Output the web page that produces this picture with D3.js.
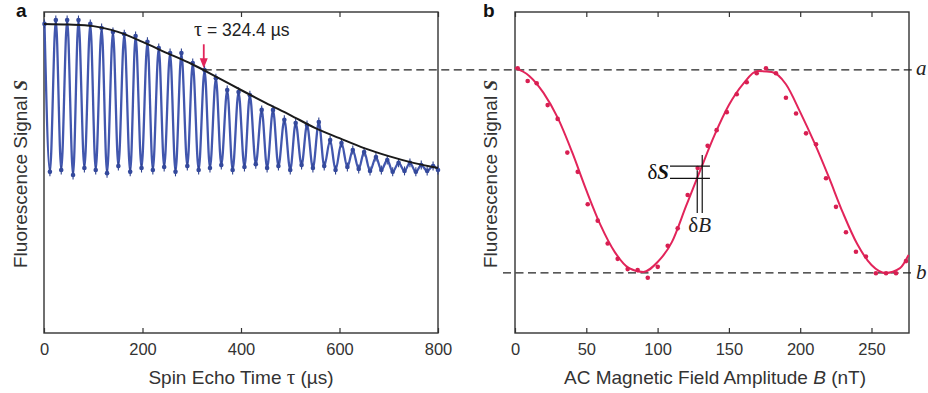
<!DOCTYPE html>
<html><head><meta charset="utf-8">
<script src="https://cdn.jsdelivr.net/npm/d3@7"></script>
<style>
html,body{margin:0;padding:0;background:#fff;}
svg{display:block;}
</style></head>
<body>
<script>
// ---------- DATA (signal in arbitrary units 0..1) ----------
// Panel a: spin-echo oscillation (peak / trough samples)
const peakTau = [1,24,47,70,94,117,140,163,186,210,233,256,279,302,326,349,372,395,418,442,465,488,511,534,558,581,604,627,650,674,697,720,743,766,790];
const peakVal = [0.963,0.975,0.975,0.975,0.963,0.950,0.938,0.931,0.925,0.907,0.888,0.872,0.872,0.841,0.819,0.794,0.757,0.751,0.741,0.695,0.695,0.664,0.654,0.648,0.657,0.601,0.592,0.570,0.564,0.548,0.539,0.530,0.530,0.523,0.520];
const troughTau = [12,35,59,82,105,128,151,175,198,221,244,267,291,314,337,360,383,407,430,453,476,500,523,546,569,592,616,639,662,685,708,732,755,778,800];
const troughVal = [0.502,0.508,0.492,0.514,0.508,0.498,0.520,0.502,0.514,0.508,0.517,0.502,0.520,0.508,0.514,0.523,0.508,0.517,0.526,0.514,0.520,0.508,0.523,0.514,0.520,0.508,0.517,0.511,0.505,0.508,0.502,0.505,0.502,0.505,0.508];
const errBar = 0.014;
// Panel a: Gaussian-like decay envelope
const envTau = [0,50,100,150,200,250,300,350,400,450,500,550,600,650,700,750,800];
const envVal = [0.963,0.961,0.956,0.938,0.907,0.872,0.838,0.798,0.757,0.717,0.679,0.639,0.607,0.576,0.551,0.530,0.514];
const tauMark = 324.4;
const xTicksA = [0,200,400,600,800];

// Panel b: magnetometry fringe
const ptB = [1.9,8.9,15.2,22.9,29.9,36.7,44.0,51.0,58.0,65.0,72.0,79.0,86.0,93.1,100.1,107.1,114.1,121.1,128.1,135.1,141.4,148.5,155.5,162.5,169.5,176.0,183.0,190.0,197.1,204.1,211.1,218.1,225.1,232.1,239.1,246.1,253.1,260.2,267.2,274.2];
const ptS = [0.825,0.785,0.778,0.710,0.667,0.562,0.502,0.401,0.350,0.279,0.231,0.199,0.196,0.172,0.206,0.272,0.326,0.430,0.514,0.583,0.632,0.688,0.744,0.781,0.809,0.825,0.809,0.733,0.684,0.622,0.588,0.482,0.393,0.314,0.253,0.238,0.186,0.186,0.186,0.224];
const fitB = [0,10,20,30,40,50,60,70,80,90,100,110,120,130,140,150,160,170,180,190,200,210,220,230,240,250,260,270,276];
const fitS = [0.826,0.801,0.748,0.670,0.564,0.445,0.336,0.252,0.202,0.190,0.221,0.283,0.396,0.508,0.617,0.710,0.776,0.816,0.813,0.775,0.688,0.592,0.486,0.374,0.277,0.212,0.187,0.202,0.243];
const levelA = 0.820, levelB = 0.187;
const deltaS = [0.520,0.482];   // δS levels
const deltaB = [127.8,131.3];   // δB positions (nT)
const xTicksB = [0,50,100,150,200,250];

// ---------- LAYOUT ----------
const W = 928, H = 393;
const SANS = "Liberation Sans, Arial, sans-serif", SERIF = "Liberation Serif, Times New Roman, serif";
const svg = d3.select("body").append("svg").attr("width", W).attr("height", H)
  .attr("font-family", SANS).attr("fill", "#222");
const y = d3.scaleLinear().domain([0,1]).range([333,12]);
const xA = d3.scaleLinear().domain([0,800]).range([44,438]);
const xB = d3.scaleLinear().domain([0,276.3]).range([515,909]);
const blue = "#4257ae", red = "#e2245a";

function frame(x, ticks) {
  const g = svg.append("g");
  g.append("g").attr("transform", "translate(0,333)")
    .call(d3.axisBottom(x).tickValues(ticks).tickSize(-5).tickPadding(10).tickFormat(d3.format("d")))
    .call(s => { s.select(".domain").remove(); s.selectAll("line").attr("stroke","#333").attr("stroke-width",1.2);
                 s.selectAll("text").attr("font-size",16.5).attr("fill","#333").attr("font-family",SANS); });
  g.append("g").attr("transform", "translate(0,12)")
    .call(d3.axisTop(x).tickValues(ticks).tickSize(-5).tickFormat(""))
    .call(s => { s.select(".domain").remove(); s.selectAll("line").attr("stroke","#333").attr("stroke-width",1.2); });
  const [x0, x1] = x.range();
  g.append("rect").attr("x", x0).attr("y", 12).attr("width", x1 - x0).attr("height", 321)
    .attr("fill", "none").attr("stroke", "#333").attr("stroke-width", 1.4);
}
frame(xA, xTicksA);
frame(xB, xTicksB);

// ---------- PANEL A ----------
const pts = peakTau.map((t,i)=>({t, v:peakVal[i]})).concat(troughTau.map((t,i)=>({t, v:troughVal[i]})))
  .sort((a,b)=>a.t-b.t);
const gA = svg.append("g");
gA.append("path").datum(pts)
  .attr("d", d3.line().x(d=>xA(d.t)).y(d=>y(d.v)).curve(d3.curveMonotoneX))
  .attr("fill","none").attr("stroke",blue).attr("stroke-width",2.3);
gA.selectAll("line.err").data(pts).join("line").attr("class","err")
  .attr("x1",d=>xA(d.t)).attr("x2",d=>xA(d.t))
  .attr("y1",d=>y(d.v+errBar)).attr("y2",d=>y(d.v-errBar))
  .attr("stroke","#2f438f").attr("stroke-width",1.1);
gA.selectAll("circle").data(pts).join("circle")
  .attr("cx",d=>xA(d.t)).attr("cy",d=>y(d.v)).attr("r",2.3).attr("fill","#34499c");
gA.append("path").datum(envTau.map((t,i)=>({t, v:envVal[i]})))
  .attr("d", d3.line().x(d=>xA(d.t)).y(d=>y(d.v)).curve(d3.curveMonotoneX))
  .attr("fill","none").attr("stroke","#1a1a1a").attr("stroke-width",2);

// dashed level lines
svg.append("line").attr("x1", xA(tauMark)).attr("x2", 913).attr("y1", y(levelA)).attr("y2", y(levelA))
  .attr("stroke","#222").attr("stroke-width",1.2).attr("stroke-dasharray","8,4.5");
svg.append("line").attr("x1", 503).attr("x2", 913).attr("y1", y(levelB)).attr("y2", y(levelB))
  .attr("stroke","#222").attr("stroke-width",1.2).attr("stroke-dasharray","8,4.5");

// red arrow + tau label
const ax = xA(tauMark), tip = y(levelA) - 1.5;
svg.append("line").attr("x1",ax).attr("x2",ax).attr("y1",tip-24).attr("y2",tip-8)
  .attr("stroke",red).attr("stroke-width",1.8);
svg.append("path").attr("d",`M${ax-4},${tip-10}L${ax+4},${tip-10}L${ax},${tip}Z`).attr("fill",red);
const tt = svg.append("text").attr("x",194).attr("y",36).attr("font-size",17.5).attr("fill","#222");
tt.append("tspan").attr("font-family",SERIF).attr("font-size",20).text("τ");
tt.append("tspan").text(" = " + tauMark.toFixed(1) + " µs");

// ---------- PANEL B ----------
const gB = svg.append("g");
gB.append("path").datum(fitB.map((b,i)=>({b, s:fitS[i]})))
  .attr("d", d3.line().x(d=>xB(d.b)).y(d=>y(d.s)).curve(d3.curveMonotoneX))
  .attr("fill","none").attr("stroke",red).attr("stroke-width",2);
gB.selectAll("circle").data(ptB.map((b,i)=>({b, s:ptS[i]}))).join("circle")
  .attr("cx",d=>xB(d.b)).attr("cy",d=>y(d.s)).attr("r",2.3).attr("fill","#d81f52");

// δS / δB markers
const hx0 = xB(108.7), hx1 = xB(136.7);
deltaS.forEach(s => gB.append("line").attr("x1",hx0).attr("x2",hx1).attr("y1",y(s)).attr("y2",y(s))
  .attr("stroke","#111").attr("stroke-width",1.2));
gB.append("line").attr("x1",xB(deltaB[0])).attr("x2",xB(deltaB[0])).attr("y1",y(deltaS[1])-8).attr("y2",y(0.374))
  .attr("stroke","#111").attr("stroke-width",1.2);
gB.append("line").attr("x1",xB(deltaB[1])).attr("x2",xB(deltaB[1])).attr("y1",y(deltaS[0])-11).attr("y2",y(0.374))
  .attr("stroke","#111").attr("stroke-width",1.2);
const ds = gB.append("text").attr("x",hx0-1).attr("y",y((deltaS[0]+deltaS[1])/2)+7).attr("text-anchor","end")
  .attr("font-family",SERIF).attr("font-size",21).attr("fill","#111");
ds.append("tspan").text("δ");
ds.append("tspan").attr("font-style","italic").attr("font-weight","bold").text("S");
const db = gB.append("text").attr("x",xB((deltaB[0]+deltaB[1])/2)).attr("y",232).attr("text-anchor","middle")
  .attr("font-family",SERIF).attr("font-size",21).attr("fill","#222");
db.append("tspan").text("δ");
db.append("tspan").attr("font-style","italic").text("B");

// level labels
svg.append("text").attr("x",916).attr("y",y(levelA)+5).attr("font-family",SERIF)
  .attr("font-style","italic").attr("font-size",21).text("a");
svg.append("text").attr("x",916).attr("y",y(levelB)+6).attr("font-family",SERIF)
  .attr("font-style","italic").attr("font-size",21).text("b");

// ---------- LABELS ----------
svg.append("text").attr("x",16).attr("y",17).attr("font-weight","bold").attr("font-size",19).attr("fill","#111").text("a");
svg.append("text").attr("x",483).attr("y",17).attr("font-weight","bold").attr("font-size",19).attr("fill","#111").text("b");

function ylab(x) {
  const t = svg.append("text").attr("transform",`translate(${x},174) rotate(-90)`).attr("text-anchor","middle")
    .attr("font-size",19).attr("fill","#333");
  t.append("tspan").text("Fluorescence Signal ");
  t.append("tspan").attr("font-family",SERIF).attr("font-style","italic").attr("font-weight","bold").text("S");
}
ylab(27); ylab(497);

const xt1 = svg.append("text").attr("x",(44+438)/2).attr("y",384).attr("text-anchor","middle").attr("font-size",19).attr("fill","#333");
xt1.append("tspan").text("Spin Echo Time ");
xt1.append("tspan").attr("font-family",SERIF).attr("font-size",21).text("τ");
xt1.append("tspan").text(" (µs)");
const xt2 = svg.append("text").attr("x",715).attr("y",384).attr("text-anchor","middle").attr("font-size",19).attr("fill","#333");
xt2.append("tspan").text("AC Magnetic Field Amplitude ");
xt2.append("tspan").attr("font-style","italic").text("B");
xt2.append("tspan").text(" (nT)");
</script>
</body></html>
